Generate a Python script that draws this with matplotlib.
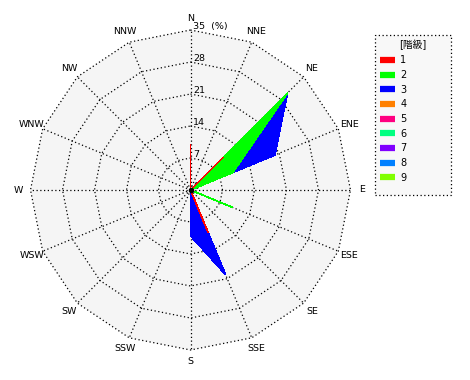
import matplotlib
matplotlib.use("Agg")
import matplotlib.pyplot as plt
import numpy as np
from matplotlib.lines import Line2D
from matplotlib.patches import Rectangle

plt.rcParams["font.family"] = ["DejaVu Sans", "Noto Sans CJK JP"]

DIRECTIONS = ["N", "NNE", "NE", "ENE", "E", "ESE", "SE", "SSE",
              "S", "SSW", "SW", "WSW", "W", "WNW", "NW", "NNW"]
RINGS = [7, 14, 21, 28, 35]
CLASS_LABELS = ["1", "2", "3", "4", "5", "6", "7", "8", "9"]
CLASS_COLORS = ["#ff0000", "#00ff00", "#0000ff", "#ff8000", "#ff0080",
                "#00ff80", "#8000ff", "#0080ff", "#80ff00"]

# frequency (%) per direction, one list per class
CLASS_1 = [10, 0, 10, 0, 0, 0, 0, 10, 0, 0, 0, 0, 0, 0, 0, 0]
CLASS_2 = [0, 0, 20, 10, 0, 10, 0, 0, 0, 0, 0, 0, 0, 0, 0, 0]
CLASS_3 = [0, 0, 0, 10, 0, 0, 0, 10, 10, 0, 0, 0, 0, 0, 0, 0]
CLASS_4 = [0] * 16
CLASS_5 = [0] * 16
CLASS_6 = [0] * 16
CLASS_7 = [0] * 16
CLASS_8 = [0] * 16
CLASS_9 = [0] * 16


def main() -> None:
    values = np.array([CLASS_1, CLASS_2, CLASS_3, CLASS_4, CLASS_5,
                       CLASS_6, CLASS_7, CLASS_8, CLASS_9], dtype=float)
    stacked = np.cumsum(values, axis=0)

    width, height = 470, 380
    cx, cy = 190.5, 190.0
    scale = 160.0 / RINGS[-1]

    fig = plt.figure(figsize=(width / 100, height / 100), dpi=100)
    ax = fig.add_axes([0, 0, 1, 1])
    ax.set_xlim(-cx / scale, (width - cx) / scale)
    ax.set_ylim(-(height - cy) / scale, cy / scale)
    ax.axis("off")

    theta = np.deg2rad(np.arange(len(DIRECTIONS)) * 22.5)
    sx, sy = np.sin(theta), np.cos(theta)
    sx_c, sy_c = np.append(sx, sx[0]), np.append(sy, sy[0])

    rmax = RINGS[-1]
    ax.fill(rmax * sx, rmax * sy, color="#f5f5f5", zorder=0, lw=0)

    dot = dict(color="black", lw=0.9, dashes=(1, 2), zorder=1)
    for r in RINGS:
        ax.plot(r * sx_c, r * sy_c, **dot)
    for i in range(len(DIRECTIONS)):
        ax.plot([0, rmax * sx[i]], [0, rmax * sy[i]], **dot)

    for i, name in enumerate(DIRECTIONS):
        ax.text(37.6 * sx[i], 37.6 * sy[i], name, ha="center", va="center",
                fontsize=6.8)

    ax.text(0.6, 0.8, "0", fontsize=6.5, ha="left", va="center", zorder=1)
    for r in RINGS:
        label = f"{r}  (%)" if r == rmax else str(r)
        ax.text(0.55, r + 0.75, label, fontsize=6.8, ha="left", va="center",
                zorder=2)

    for k in reversed(range(len(CLASS_LABELS))):
        r = stacked[k]
        ax.fill(r * sx, r * sy, facecolor=CLASS_COLORS[k],
                edgecolor=CLASS_COLORS[k], lw=0.5, zorder=3 + (8 - k),
                antialiased=False)

    ax.plot(0, 0, "o", color="black", ms=3, zorder=20)

    # legend box, drawn behind the axes
    fig.patches.append(Rectangle(
        (375 / width, 1 - 195 / height), 76 / width, 160 / height,
        transform=fig.transFigure, facecolor="#f8f8f8", edgecolor="black",
        lw=0.9, linestyle=(0, (1, 2)), zorder=-1))

    handles = [Line2D([], [], color=c, lw=4.5, solid_capstyle="butt")
               for c in CLASS_COLORS]
    ax.legend(
        handles, CLASS_LABELS,
        title="[階級]",
        loc="upper left",
        bbox_to_anchor=(375 / width, 1 - 39 / height, 76 / width, 0.01),
        bbox_transform=fig.transFigure,
        mode="expand",
        fontsize=7,
        title_fontsize=7,
        handlelength=1.6,
        handletextpad=0.5,
        labelspacing=0.48,
        borderpad=0.5,
        borderaxespad=0,
        frameon=False,
    )

    fig.savefig("out.png", dpi=100)


if __name__ == "__main__":
    main()
